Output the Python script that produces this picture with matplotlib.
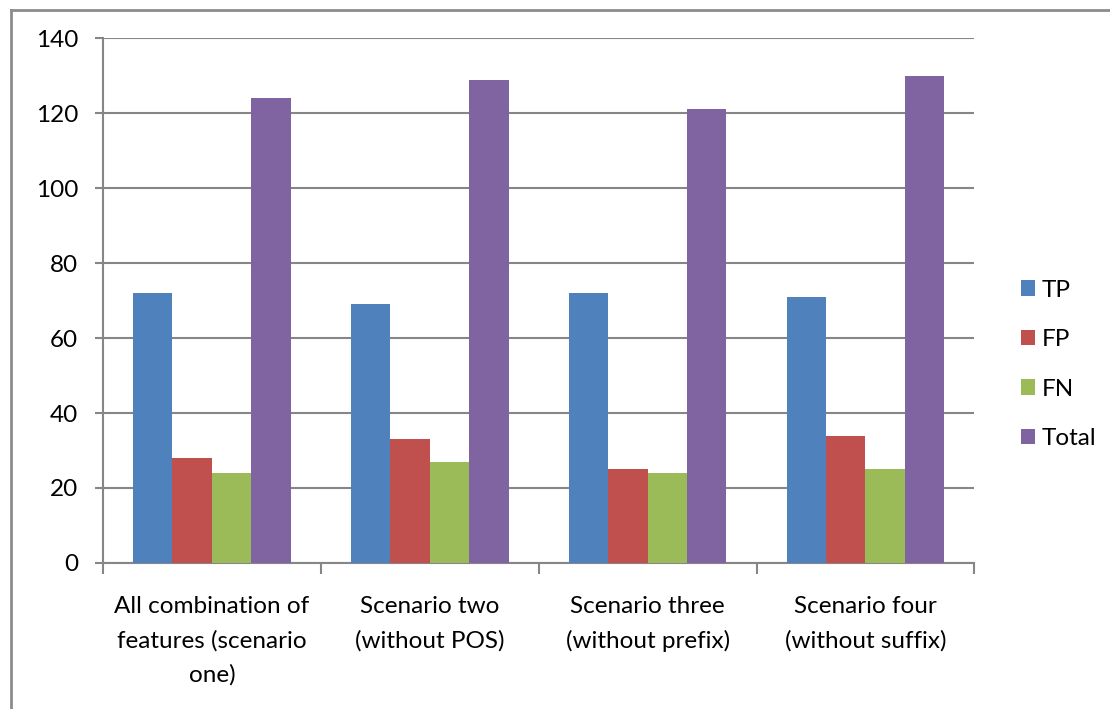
import numpy as np
import matplotlib.pyplot as plt
from matplotlib.lines import Line2D
from matplotlib.patches import Patch

#-- Data ---------------------------------------------------
scenarios = ["All combination of\nfeatures (scenario\none)",
             "Scenario two\n(without POS)",
             "Scenario three\n(without prefix)",
             "Scenario four\n(without suffix)"]
series = ["TP", "FP", "FN", "Total"]
tp = [72, 69, 72, 71]
fp = [28, 33, 25, 34]
fn = [24, 27, 24, 25]
total = [124, 129, 121, 130]
colors = ["#4F81BD", "#C0504D", "#9BBB59", "#8064A2"]

plt.rcParams['font.family'] = ['Lato', 'DejaVu Sans']
grid_col = "#868686"
fs = 17.5

#-- Plot ---------------------------------------------------
fig = plt.figure(figsize=(11.1, 7.09), dpi=100)
ax = fig.add_axes([0.0928, 0.206, 0.785, 0.740])

x = np.arange(len(scenarios))
w = 0.181
for i, (vals, c) in enumerate(zip([tp, fp, fn, total], colors)):
    ax.bar(x + (i - 1.5) * w, vals, w, color=c, label=series[i], zorder=3)

ax.set_xlim(-0.5, len(scenarios) - 0.5)
ax.set_ylim(0, 140)
ax.set_yticks(np.arange(0, 141, 20))
ax.yaxis.grid(True, color=grid_col, linewidth=1.5, zorder=0)
ax.set_axisbelow(True)

# category boundaries carry the x tick marks
ax.set_xticks(np.arange(-0.5, len(scenarios), 1.0))
ax.set_xticklabels([])
ax.set_xticks(x, minor=True)
ax.set_xticklabels(scenarios, minor=True, fontsize=fs, linespacing=1.72)
ax.tick_params(axis='x', which='minor', length=0, pad=24)
ax.tick_params(axis='x', which='major', length=8, width=1.5, color=grid_col)
ax.tick_params(axis='y', length=6, width=1.5, color=grid_col, labelsize=fs, pad=12)

for s in ['top', 'right']:
    ax.spines[s].set_visible(False)
for s in ['left', 'bottom']:
    ax.spines[s].set_color(grid_col)
    ax.spines[s].set_linewidth(1.5)

handles = [Patch(facecolor=c, edgecolor='none') for c in colors]
fig.legend(handles, series, loc='center left', bbox_to_anchor=(0.9, 0.486),
           frameon=False, fontsize=fs, handlelength=0.6, handleheight=0.6,
           handletextpad=0.25, labelspacing=1.17)

# outer chart frame
fig.add_artist(Line2D([0.0095, 1.0], [0.986, 0.986], color="#8c8c8c", lw=2,
                      transform=fig.transFigure))
fig.add_artist(Line2D([0.0095, 0.0095], [0.0, 0.986], color="#8c8c8c", lw=2,
                      transform=fig.transFigure))

fig.savefig("out.png", dpi=100)
